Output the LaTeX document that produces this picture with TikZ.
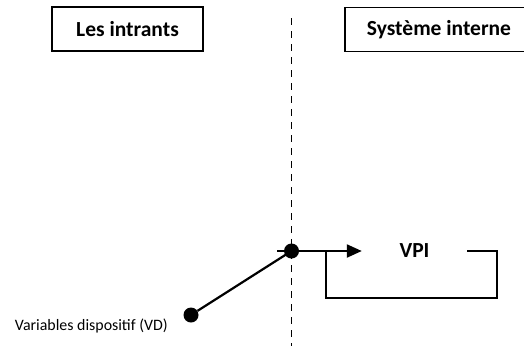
\documentclass[tikz,border=0pt]{standalone}
\usepackage{fontspec}
\setmainfont{Carlito}
\usetikzlibrary{arrows.meta}

\begin{document}
\begin{tikzpicture}[x=1pt, y=-1pt, >={Triangle[length=15pt,width=13pt]},
  titlebox/.style={draw, line width=1.5pt, minimum height=44pt, inner sep=0pt},
  titletext/.style={font=\fontsize{21.5}{24}\selectfont\bfseries, inner sep=0pt},
  dot/.style={circle, fill=black, minimum size=15pt, inner sep=0pt}]

  \useasboundingbox (0,0) rectangle (524,346);
  \clip (0,0) rectangle (524,346);

  % --- 1. titres ---
  \node[titlebox, minimum width=151pt] (intrants) at (127.5,29) {};
  \node[titletext] at (intrants) {Les intrants};
  % le cadre de droite depasse le bord de la page
  \node[titlebox, minimum width=260pt] (cadre) at (475,29.5) {};
  \node[titletext] (interne) at (439,29.5) {Système interne};

  % --- 2. frontière (pointillés) ---
  \coordinate (ftop) at (291.5,18);
  \coordinate (fbot) at (291.5,346);
  \draw[line width=1.9pt, dash pattern=on 7pt off 6pt] (ftop) -- (fbot);

  % --- 3. points et flux ---
  \node[dot] (jonction) at (291.5,251) {};
  \node[dot] (vdpoint) at (191,315) {};
  \coordinate (depart) at (277,251);
  \coordinate (branche) at (326,251);
  \node[titletext, minimum width=105pt] (vpi) at (414.5,251) {VPI};
  \node[anchor=east, font=\fontsize{15.9}{18}\selectfont, inner sep=0pt]
    (vd) at (168,326) {Variables dispositif (VD)};

  \draw[line width=2.2pt] (vdpoint) -- (jonction.center);
  \draw[->, line width=2.2pt] (depart) -- (vpi.west);

  % boucle de retour
  \draw[line width=1.5pt] (vpi.east) -- (497,251) |- (326,298) -- (branche);

\end{tikzpicture}
\end{document}
